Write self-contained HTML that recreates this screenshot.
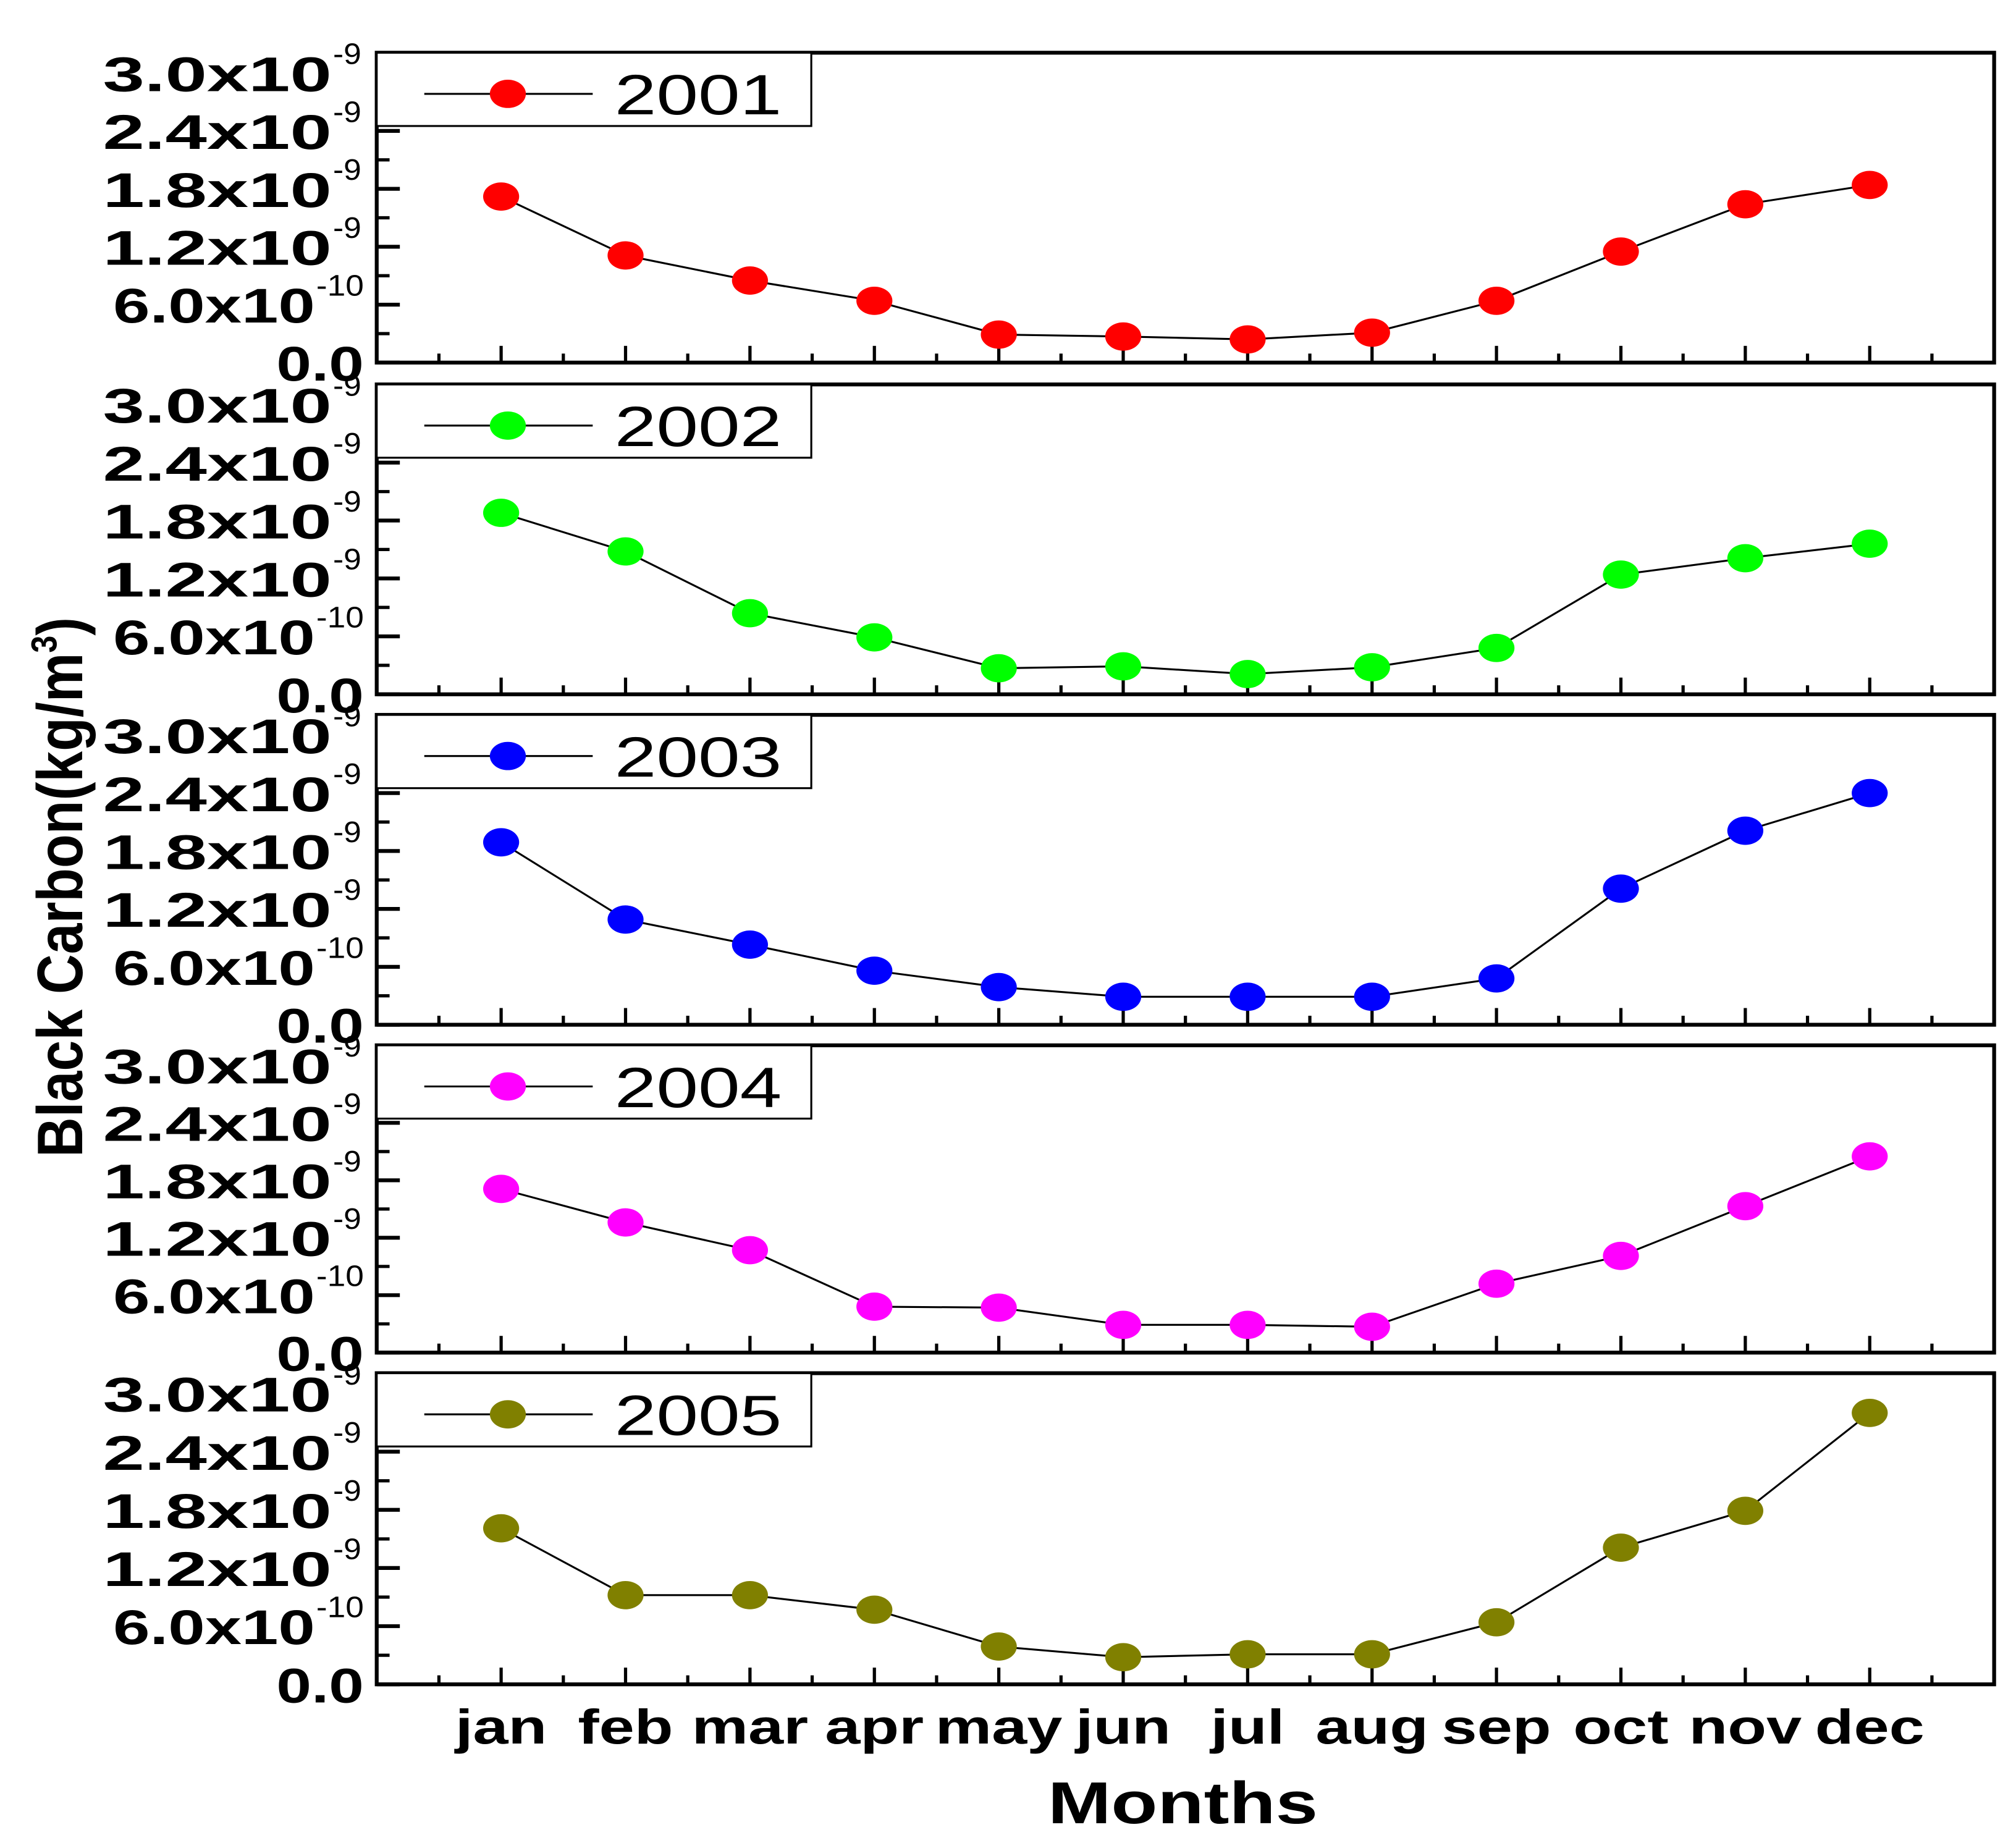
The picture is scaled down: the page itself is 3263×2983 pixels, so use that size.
<!DOCTYPE html>
<html><head><meta charset="utf-8"><style>
html,body{margin:0;padding:0;background:#fff}
svg{display:block}
text{font-family:"Liberation Sans",sans-serif}
.b{font-weight:bold}
</style></head><body>
<svg id="chart" width="3263" height="2983" viewBox="0 0 1568 1433.4" preserveAspectRatio="none" xmlns="http://www.w3.org/2000/svg">
<text class="b" transform="translate(64,690) rotate(-90)" text-anchor="middle" font-size="50" textLength="420" lengthAdjust="spacingAndGlyphs">Black Carbon(kg/m<tspan font-size="28" dy="-20">3</tspan><tspan dy="20">)</tspan></text>
<text class="b" x="920" y="1418" text-anchor="middle" font-size="46" textLength="210" lengthAdjust="spacingAndGlyphs">Months</text>
</svg>
<script>
const months = ['jan','feb','mar','apr','may','jun','jul','aug','sep','oct','nov','dec'];
const years = ['2001','2002','2003','2004','2005'];
const colors = ['#ff0000','#00ff00','#0000ff','#ff00ff','#808000'];
const s2001 = [1.72,1.11,0.85,0.64,0.29,0.27,0.24,0.31,0.64,1.15,1.64,1.84];
const s2002 = [1.88,1.48,0.84,0.59,0.27,0.29,0.21,0.28,0.48,1.24,1.41,1.56];
const s2003 = [1.89,1.09,0.83,0.56,0.39,0.29,0.29,0.29,0.48,1.41,2.01,2.40];
const s2004 = [1.71,1.36,1.07,0.48,0.47,0.29,0.29,0.27,0.72,1.01,1.53,2.05];
const s2005 = [1.61,0.92,0.92,0.77,0.39,0.28,0.31,0.31,0.64,1.41,1.79,2.80];
const yTicks = [0,0.6,1.2,1.8,2.4,3.0];
const yTickLabels = ['0.0','6.0x10','1.2x10','1.8x10','2.4x10','3.0x10'];
const yTickExp = ['','-10','-9','-9','-9','-9'];
const series = [s2001,s2002,s2003,s2004,s2005];

const NS='http://www.w3.org/2000/svg';
const svg=document.getElementById('chart');
function mk(tag,attrs,parent){const e=document.createElementNS(NS,tag);for(const k in attrs)e.setAttribute(k,attrs[k]);(parent||svg).appendChild(e);return e;}
const L=293,R=1551;
const tops=[41,299,556,813,1068];
const bots=[282,540,797,1052,1310];
function xs(i){return L+(i+1)*(R-L)/13;}

series.forEach((vals,p)=>{
  const T=tops[p],B=bots[p];
  const ys=v=>B-v*(B-T)/3.21;
  const g=mk('g',{});
  
  
  for(let k=0;k<=12;k++){
    const x=L+k*(R-L)/13+(R-L)/26;
    mk('line',{x1:x,x2:x,y1:B,y2:B-7,stroke:'#000','stroke-width':2.5},g);
  }
  months.forEach((m,i)=>{mk('line',{x1:xs(i),x2:xs(i),y1:B,y2:B-13,stroke:'#000','stroke-width':2.5},g);});
  for(let v=0.3;v<3.1;v+=0.6){const y=ys(v);mk('line',{x1:L,x2:L+10,y1:y,y2:y,stroke:'#000','stroke-width':2.5},g);}
  yTicks.forEach((v,i)=>{
    const y=ys(v);
    mk('line',{x1:L,x2:L+18,y1:y,y2:y,stroke:'#000','stroke-width':3},g);
    const isZero=i==0, isTen=yTickExp[i]=='-10';
    const right=isZero?283:(isTen?245:258);
    const w=isZero?68:(isTen?157:178);
    const t=mk('text',{x:right-w,y:y+14,'font-size':38,'class':'b',textLength:w,lengthAdjust:'spacingAndGlyphs'},g);
    
    
    t.textContent=yTickLabels[i];
    if(yTickExp[i]){const e=mk('text',{x:right+1,y:y-7,'font-size':23,textLength:isTen?37:22,lengthAdjust:'spacingAndGlyphs'},g);e.textContent=yTickExp[i];}
  });
  mk('rect',{x:L,y:T,width:R-L,height:B-T,fill:'none',stroke:'#000','stroke-width':3},g);
  const pts=vals.map((v,i)=>xs(i)+','+ys(v)).join(' ');
  const pl=mk('polyline',{points:pts,fill:'none',stroke:'#000','stroke-width':1.5},g);
  
  
  vals.forEach((v,i)=>{
    const c=mk('ellipse',{cx:xs(i),cy:ys(v),rx:14,ry:11,fill:colors[p]},g);
    
    
  });
  const lg=mk('g',{},g);
  
  
  mk('rect',{x:L,y:T,width:338,height:57,fill:'#fff',stroke:'#000','stroke-width':1.5},lg);
  mk('line',{x1:330,x2:461,y1:T+32,y2:T+32,stroke:'#000','stroke-width':1.5},lg);
  mk('ellipse',{cx:395,cy:T+32,rx:14,ry:11,fill:colors[p]},lg);
  const lt=mk('text',{x:478,y:T+48,'font-size':44,textLength:130,lengthAdjust:'spacingAndGlyphs'},lg);
  lt.textContent=years[p];
});
months.forEach((m,i)=>{
  const t=mk('text',{x:xs(i),y:1356,'text-anchor':'middle','font-size':38,'class':'b'});
  
  
  t.textContent=m;
  const w=t.getComputedTextLength();
  t.setAttribute('textLength',w*1.3);
  t.setAttribute('lengthAdjust','spacingAndGlyphs');
});
</script>
</body></html>
